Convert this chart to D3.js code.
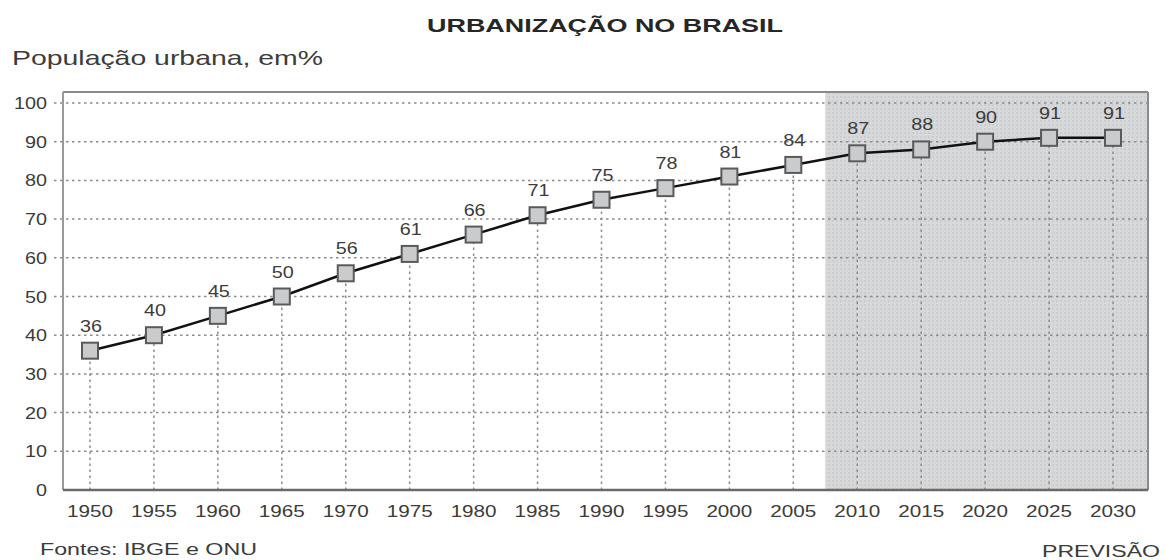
<!DOCTYPE html>
<html><head><meta charset="utf-8">
<script src="https://cdn.jsdelivr.net/npm/d3@7"></script>
<style>body{margin:0;background:#fff}svg{display:block}</style>
</head><body>
<svg id="c" width="1166" height="560"></svg>
<script>
const years = [1950,1955,1960,1965,1970,1975,1980,1985,1990,1995,2000,2005,2010,2015,2020,2025,2030];
const yearLabels = ["1950","1955","1960","1965","1970","1975","1980","1985","1990","1995","2000","2005","2010","2015","2020","2025","2030"];
const urbanPct = [36,40,45,50,56,61,66,71,75,78,81,84,87,88,90,91,91];
const yTicks = [0,10,20,30,40,50,60,70,80,90,100];
const forecastStart = 2007.5;
const forecastEnd = 2030;

(function(){
const svg = d3.select("#c");
const font = "'Liberation Sans', Arial, sans-serif";
const txt = "#3c3c3c";

const x = d3.scaleLinear().domain([1950,2030]).range([90,1113]);
const y = d3.scaleLinear().domain([0,100]).range([490,103]);
const pLeft = 63, pRight = 1148, pTop = 92, pBottom = 490;

// forecast shading
const defs = svg.append("defs");
const pat = defs.append("pattern").attr("id","dots").attr("width",4).attr("height",4).attr("patternUnits","userSpaceOnUse");
pat.append("rect").attr("width",4).attr("height",4).attr("fill","#d6d8da");
pat.append("rect").attr("width",2).attr("height",2).attr("fill","#cbcdcf");
svg.append("rect").attr("x",x(forecastStart)).attr("y",pTop).attr("width",pRight-x(forecastStart)).attr("height",pBottom-pTop).attr("fill","url(#dots)");

// horizontal gridlines
svg.append("g").selectAll("line").data(yTicks.filter(d=>d>0)).join("line")
  .attr("x1",54).attr("x2",pRight).attr("y1",d=>y(d)).attr("y2",d=>y(d))
  .attr("stroke","#8c8c8c").attr("stroke-width",1.5).attr("stroke-dasharray","2.5,3.5");

// drop lines
svg.append("g").selectAll("line").data(years).join("line")
  .attr("x1",d=>x(d)).attr("x2",d=>x(d)).attr("y1",pBottom).attr("y2",(d,i)=>y(urbanPct[i]))
  .attr("stroke","#8c8c8c").attr("stroke-width",1.5).attr("stroke-dasharray","2.5,3.5");

// frame
svg.append("line").attr("x1",pLeft).attr("x2",pRight).attr("y1",pTop).attr("y2",pTop).attr("stroke","#8a8a8a").attr("stroke-width",2);
svg.append("line").attr("x1",pRight).attr("x2",pRight).attr("y1",pTop).attr("y2",pBottom).attr("stroke","#8a8a8a").attr("stroke-width",2);
svg.append("line").attr("x1",pLeft).attr("x2",pLeft).attr("y1",pTop).attr("y2",pBottom).attr("stroke","#9a9a9a").attr("stroke-width",2);
svg.append("line").attr("x1",pLeft).attr("x2",pRight).attr("y1",pBottom).attr("y2",pBottom).attr("stroke","#6a6a6a").attr("stroke-width",2.5);

// y tick labels
svg.append("g").selectAll("text").data(yTicks).join("text")
  .attr("x",47).attr("y",d=>y(d)+6).attr("text-anchor","end")
  .attr("font-family",font).attr("font-size",17).attr("fill",txt)
  .attr("textLength",d=>String(d).length*11).attr("lengthAdjust","spacingAndGlyphs")
  .text(d=>d);

// x tick labels
svg.append("g").selectAll("text").data(years).join("text")
  .attr("x",d=>x(d)).attr("y",517).attr("text-anchor","middle")
  .attr("font-family",font).attr("font-size",17).attr("fill",txt)
  .attr("textLength",46).attr("lengthAdjust","spacingAndGlyphs")
  .text((d,i)=>yearLabels[i]);

// line
const line = d3.line().x((d,i)=>x(years[i])).y(d=>y(d));
svg.append("path").datum(urbanPct).attr("d",line).attr("fill","none").attr("stroke","#111").attr("stroke-width",2.5);

// markers
svg.append("g").selectAll("rect").data(urbanPct).join("rect")
  .attr("x",(d,i)=>x(years[i])-8).attr("y",d=>y(d)-8).attr("width",16).attr("height",16)
  .attr("fill","#c9cbcd").attr("stroke","#5a5a5a").attr("stroke-width",2);

// value labels
svg.append("g").selectAll("text").data(urbanPct).join("text")
  .attr("x",(d,i)=>x(years[i])+1).attr("y",d=>y(d)-19).attr("text-anchor","middle")
  .attr("font-family",font).attr("font-size",17).attr("fill",txt)
  .attr("textLength",22).attr("lengthAdjust","spacingAndGlyphs")
  .text(d=>d);

// titles
svg.append("text").attr("x",605).attr("y",32).attr("text-anchor","middle")
  .attr("font-family",font).attr("font-size",18).attr("font-weight","bold").attr("fill","#262626")
  .attr("textLength",356).attr("lengthAdjust","spacingAndGlyphs").text("URBANIZAÇÃO NO BRASIL");
svg.append("text").attr("x",12).attr("y",65)
  .attr("font-family",font).attr("font-size",21).attr("fill",txt)
  .attr("textLength",311).attr("lengthAdjust","spacingAndGlyphs").text("População urbana, em%");
svg.append("text").attr("x",40).attr("y",555)
  .attr("font-family",font).attr("font-size",17).attr("fill",txt)
  .attr("textLength",217).attr("lengthAdjust","spacingAndGlyphs").text("Fontes: IBGE e ONU");
svg.append("text").attr("x",1160).attr("y",557).attr("text-anchor","end")
  .attr("font-family",font).attr("font-size",16).attr("fill",txt)
  .attr("textLength",118).attr("lengthAdjust","spacingAndGlyphs").text("PREVISÃO");
})();
</script>
</body></html>
